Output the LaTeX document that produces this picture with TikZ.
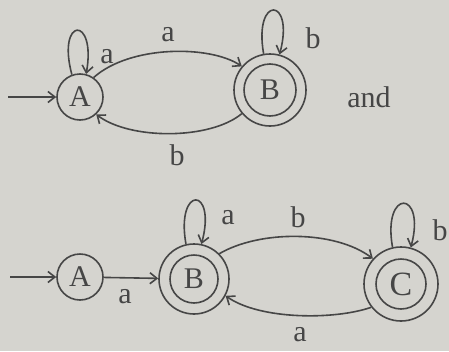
\documentclass[tikz,border=0pt]{standalone}
\usepackage{fontspec}
\setmainfont{Liberation Serif}
\usetikzlibrary{arrows.meta}
\definecolor{bg}{RGB}{213,212,207}
\definecolor{ink}{RGB}{70,70,70}
\begin{document}
\begin{tikzpicture}[x=1pt,y=1pt,
  state/.style={circle,draw=ink,line width=1.6pt,minimum size=46pt,inner sep=0pt,text=ink,font=\fontsize{30}{30}\selectfont},
  accept/.style={state,minimum size=72pt},
  ring/.style={draw=ink,line width=1.6pt},
  edge/.style={draw=ink,line width=1.6pt,-{Straight Barb[length=7pt,width=11pt,line width=1.6pt]}},
  lbl/.style={text=ink,font=\fontsize{30}{30}\selectfont,inner sep=0pt}]
\fill[bg] (0,0) rectangle (449,-351);
\useasboundingbox (0,0) rectangle (449,-351);
% ---- top automaton ----
\node[state] (A1) at (80,-97) {A};
\node[accept] (B1) at (270,-90) {B};
\draw[ring] (B1.center) circle (26pt);
\coordinate (s1) at (8,-97);
\draw[edge] (s1) -- (A1);
\draw[edge] (A1.110) .. controls +(105:60) and +(80:60) .. (A1.75);
\node[lbl] (la1) at (107,-57) {a};
\draw[edge] (A1.55) .. controls (130,-45) and (210,-45) .. (B1.140);
\node[lbl] (la2) at (168,-35) {a};
\draw[edge] (B1.220) .. controls (210,-140) and (130,-140) .. (A1.313);
\node[lbl] (lb1) at (177,-155) {b};
\draw[edge] (B1.100) .. controls +(100:60) and +(75:60) .. (B1.75);
\node[lbl] (lb2) at (313,-38) {b};
\node[lbl] (and) at (369,-97) {and};
% ---- bottom automaton ----
\node[state] (A2) at (80,-277) {A};
\node[accept,minimum size=70pt] (B2) at (194,-279) {B};
\draw[ring] (B2.center) circle (24pt);
\node[accept,minimum size=74pt,font=\fontsize{34}{34}\selectfont] (C2) at (401,-284) {C};
\draw[ring] (C2.center) circle (25pt);
\coordinate (s2) at (10,-277);
\draw[edge] (s2) -- (A2);
\draw[edge] (A2) -- (B2);
\node[lbl] (la3) at (125,-297) {a};
\draw[edge] (B2.103) .. controls +(100:60) and +(75:60) .. (B2.78);
\node[lbl] (la4) at (228,-218) {a};
\draw[edge] (B2.45) .. controls (260,-230) and (335,-230) .. (C2.138);
\node[lbl] (lb3) at (298,-217) {b};
\draw[edge] (C2.218) .. controls (335,-320) and (260,-320) .. (B2.332);
\node[lbl] (la5) at (300,-335) {a};
\draw[edge] (C2.103) .. controls +(100:60) and +(75:60) .. (C2.75);
\node[lbl] (lb4) at (440,-230) {b};
\end{tikzpicture}
\end{document}
